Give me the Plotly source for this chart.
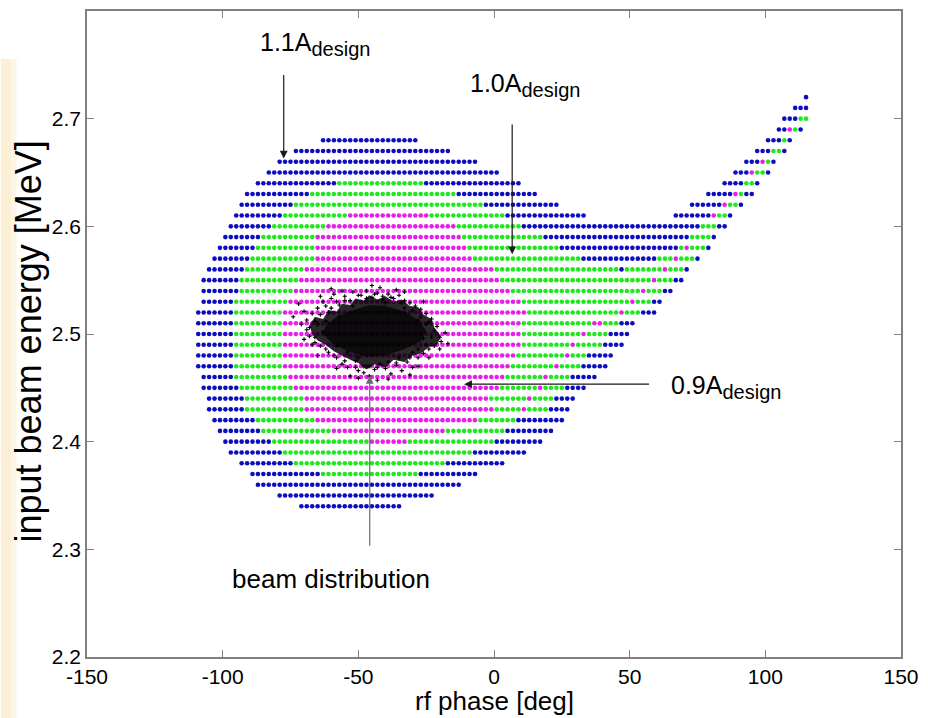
import plotly.graph_objects as go

# Phase-space acceptance scan: each row is one input beam energy [MeV],
# each segment is (colour key, first phase, last phase) on a 2-degree phase grid.
ROW_ENERGY = [2.72, 2.71, 2.70, 2.69, 2.68, 2.67, 2.66, 2.65, 2.64, 2.63, 2.62,
              2.61, 2.60, 2.59, 2.58, 2.57, 2.56, 2.55, 2.54, 2.53, 2.52, 2.51,
              2.50, 2.49, 2.48, 2.47, 2.46, 2.45, 2.44, 2.43, 2.42, 2.41, 2.40,
              2.39, 2.38, 2.37, 2.36, 2.35, 2.34]

ROW_SEGMENTS = [
    [("b", 115, 115)],
    [("b", 111, 115)],
    [("b", 107, 111), ("g", 113, 115)],
    [("b", 105, 107), ("m", 109, 109), ("g", 111, 111), ("b", 113, 113)],
    [("b", -63, -29), ("b", 101, 105), ("g", 107, 107), ("b", 109, 109)],
    [("b", -73, -17), ("b", 97, 101), ("g", 103, 105), ("b", 107, 107)],
    [("b", -79, -7), ("b", 93, 97), ("m", 99, 99), ("g", 101, 101), ("b", 103, 103)],
    [("b", -83, 1), ("b", 89, 93), ("m", 95, 95), ("g", 97, 99), ("b", 101, 101)],
    [("b", -87, -59), ("g", -57, -27), ("b", -25, 9), ("b", 85, 91), ("g", 93, 95), ("b", 97, 97)],
    [("b", -91, -69), ("g", -67, -15), ("b", -13, 15), ("b", 79, 87), ("m", 89, 89), ("g", 91, 91), ("b", 93, 95)],
    [("b", -93, -75), ("g", -73, -5), ("b", -3, 23), ("b", 73, 83), ("m", 85, 85), ("g", 87, 89), ("b", 91, 91)],
    [("b", -95, -79), ("g", -77, -55), ("m", -53, -25), ("g", -23, 3), ("b", 5, 33),
     ("b", 67, 79), ("m", 81, 81), ("g", 83, 85), ("b", 87, 87)],
    [("b", -97, -83), ("g", -81, -63), ("m", -61, -15), ("g", -13, 9), ("b", 11, 75), ("g", 77, 81), ("b", 83, 85)],
    [("b", -99, -87), ("g", -85, -67), ("m", -65, -13), ("g", -11, 17), ("b", 19, 71), ("g", 73, 79), ("b", 81, 81)],
    [("b", -101, -89), ("g", -87, -67), ("m", -65, -11), ("g", -9, 23), ("b", 25, 67), ("g", 69, 69),
     ("m", 71, 71), ("g", 73, 77), ("b", 79, 79)],
    [("b", -103, -91), ("g", -89, -67), ("m", -65, -9), ("g", -7, 31), ("b", 33, 59), ("g", 61, 65),
     ("m", 67, 67), ("g", 69, 73), ("b", 75, 75)],
    [("b", -105, -93), ("g", -91, -71), ("m", -69, -1), ("g", 1, 45), ("b", 47, 47), ("g", 49, 61),
     ("m", 63, 63), ("g", 65, 69), ("b", 71, 71)],
    [("b", -107, -95), ("g", -93, -73), ("m", -71, 1), ("g", 3, 57), ("m", 59, 59), ("g", 61, 65), ("b", 67, 69)],
    [("b", -107, -95), ("g", -93, -75), ("m", -73, 5), ("g", 7, 53), ("m", 55, 55), ("g", 57, 61), ("b", 63, 65)],
    [("b", -107, -97), ("g", -95, -77), ("m", -75, 9), ("g", 11, 49), ("m", 51, 51), ("g", 53, 57), ("b", 59, 61)],
    [("b", -109, -97), ("g", -95, -79), ("m", -77, 11), ("g", 13, 45), ("m", 47, 47), ("g", 49, 53), ("b", 55, 59)],
    [("b", -109, -97), ("g", -95, -79), ("m", -77, 9), ("g", 11, 35), ("m", 37, 39), ("g", 41, 45), ("b", 47, 51)],
    [("b", -109, -97), ("g", -95, -79), ("m", -77, 9), ("g", 11, 31), ("m", 33, 33), ("g", 35, 41), ("b", 43, 49)],
    [("b", -109, -97), ("g", -95, -79), ("m", -77, 9), ("g", 11, 27), ("m", 29, 29), ("g", 31, 39), ("b", 41, 47)],
    [("b", -109, -97), ("g", -95, -79), ("m", -77, 7), ("g", 9, 25), ("m", 27, 27), ("g", 29, 33), ("b", 35, 43)],
    [("b", -109, -97), ("g", -95, -79), ("m", -77, 5), ("g", 7, 21), ("m", 23, 23), ("g", 25, 31), ("b", 33, 41)],
    [("b", -107, -97), ("g", -95, -77), ("m", -75, 3), ("g", 5, 17), ("m", 19, 19), ("g", 21, 27), ("b", 29, 37)],
    [("b", -107, -95), ("g", -93, -75), ("m", -73, 1), ("g", 3, 15), ("m", 17, 17), ("g", 19, 25), ("b", 27, 33)],
    [("b", -105, -93), ("g", -91, -71), ("m", -69, -3), ("g", -1, 11), ("m", 13, 13), ("g", 15, 21), ("b", 23, 29)],
    [("b", -105, -93), ("g", -91, -71), ("m", -69, -1), ("g", 1, 9), ("m", 11, 11), ("g", 13, 19), ("b", 21, 27)],
    [("b", -103, -89), ("g", -87, -67), ("m", -65, -7), ("g", -5, 7), ("b", 9, 25)],
    [("b", -101, -87), ("g", -85, -61), ("m", -59, -19), ("g", -17, 3), ("b", 5, 21)],
    [("b", -99, -83), ("g", -81, -47), ("m", -45, -33), ("g", -31, -1), ("b", 1, 17)],
    [("b", -97, -79), ("g", -77, -9), ("b", -7, 11)],
    [("b", -93, -75), ("g", -73, -19), ("b", -17, 3)],
    [("b", -89, -65), ("g", -63, -29), ("b", -27, -7)],
    [("b", -87, -13)],
    [("b", -79, -23)],
    [("b", -71, -35)],
]

# Beam distribution: ragged outer envelope, dense inner core, individual particles
HALO_PHASE = [-68, -66, -63, -61, -58, -56, -53, -51, -48, -46, -43, -40, -37, -34,
              -31, -28, -26, -23, -22, -19.5, -21, -24, -27, -30, -33, -37, -40, -44,
              -47, -50, -53, -56, -59, -62, -65, -67, -68]
HALO_ENERGY = [2.508, 2.516, 2.514, 2.522, 2.521, 2.528, 2.527, 2.533, 2.531, 2.536,
               2.532, 2.535, 2.530, 2.532, 2.526, 2.525, 2.518, 2.514, 2.506, 2.498,
               2.490, 2.488, 2.482, 2.480, 2.474, 2.476, 2.469, 2.472, 2.467, 2.473,
               2.476, 2.480, 2.484, 2.490, 2.494, 2.500, 2.508]

CORE_PHASE = [-62, -58, -52, -46, -40, -33, -28, -25, -27, -33, -40, -47, -54, -60, -63, -62]
CORE_ENERGY = [2.508, 2.516, 2.522, 2.527, 2.526, 2.521, 2.513, 2.503, 2.493, 2.486,
               2.480, 2.479, 2.484, 2.492, 2.500, 2.508]

PARTICLE_PHASE = [
    -72, -69, -68, -67, -66, -65, -64, -63, -62, -61, -60, -59, -58, -57,
    -56, -55, -54, -53, -52, -51, -50, -49, -48, -47, -46, -45, -44, -43,
    -42, -41, -40, -39, -38, -37, -36, -35, -34, -33, -32, -31, -30, -29,
    -28, -27, -26, -25, -24, -23, -22, -21, -20, -19.5, -22, -24, -63, -65,
    -61, -58, -54, -50, -35, -30, -26, -28, -33, -40, -52, -57, -70, -46,
    -42, -36, -56, -64, -31, -53, -24, -20, -67,
    -66, -64, -62, -60, -58, -55, -50, -47, -44, -41, -38, -34, -30, -27,
    -25, -23, -25, -28, -31, -36, -39, -43, -48, -51, -55, -59, -62, -66,
    -68, -69, -71, -74, -60, -45, -33, -26, -18, -17, -28, -43, -50, -39,
    -58, -65, -70]
PARTICLE_ENERGY = [
    2.528, 2.513, 2.506, 2.519, 2.497, 2.524, 2.489, 2.530, 2.512, 2.483,
    2.533, 2.537, 2.478, 2.527, 2.472, 2.535, 2.469, 2.531, 2.539, 2.475,
    2.466, 2.536, 2.464, 2.540, 2.470, 2.534, 2.467, 2.538, 2.472, 2.535,
    2.468, 2.537, 2.463, 2.533, 2.471, 2.536, 2.466, 2.531, 2.474, 2.529,
    2.469, 2.526, 2.478, 2.523, 2.482, 2.519, 2.486, 2.514, 2.489, 2.507,
    2.497, 2.493, 2.503, 2.511, 2.502, 2.509, 2.520, 2.489, 2.483, 2.478,
    2.478, 2.483, 2.496, 2.513, 2.524, 2.529, 2.526, 2.516, 2.521, 2.461,
    2.543, 2.541, 2.540, 2.535, 2.462, 2.461, 2.478, 2.486, 2.490,
    2.512, 2.518, 2.526, 2.524, 2.530, 2.531, 2.536, 2.533, 2.537, 2.532,
    2.534, 2.529, 2.522, 2.516, 2.509, 2.497, 2.490, 2.486, 2.478, 2.473,
    2.474, 2.469, 2.470, 2.469, 2.475, 2.480, 2.486, 2.492, 2.498, 2.504,
    2.509, 2.516, 2.542, 2.545, 2.539, 2.530, 2.501, 2.491, 2.470, 2.457,
    2.459, 2.458, 2.468, 2.480, 2.495]

X_TICKS = [-150, -100, -50, 0, 50, 100, 150]
Y_TICKS = [2.2, 2.3, 2.4, 2.5, 2.6, 2.7]

COLORS = {"b": "#0c0cc0", "g": "#1fe81f", "m": "#e81fe8"}
NAMES = {"b": "1.1A", "g": "1.0A", "m": "0.9A"}
FONT = "Liberation Sans, Arial, sans-serif"

pts = {k: ([], []) for k in COLORS}
for energy, segs in zip(ROW_ENERGY, ROW_SEGMENTS):
    for key, first, last in segs:
        for phase in range(first, last + 1, 2):
            pts[key][0].append(phase)
            pts[key][1].append(energy)

fig = go.Figure()
for key in ["b", "g", "m"]:
    fig.add_trace(go.Scatter(
        x=pts[key][0], y=pts[key][1], mode="markers", name=NAMES[key],
        marker=dict(size=4.6, color=COLORS[key], line=dict(width=0)),
        hoverinfo="skip"))

fig.add_trace(go.Scatter(
    x=HALO_PHASE, y=HALO_ENERGY, mode="lines", fill="toself",
    fillcolor="rgba(0,0,0,0.84)", line=dict(width=0), hoverinfo="skip"))
fig.add_trace(go.Scatter(
    x=CORE_PHASE, y=CORE_ENERGY, mode="lines", fill="toself",
    fillcolor="rgba(0,0,0,0.7)", line=dict(width=0), hoverinfo="skip"))
fig.add_trace(go.Scatter(
    x=PARTICLE_PHASE, y=PARTICLE_ENERGY, mode="markers",
    marker=dict(size=3, color="black", symbol="cross-thin",
                line=dict(width=1.1, color="black")),
    hoverinfo="skip"))


def arrow(x_tip, y_tip, x_tail, y_tail, color="#1a1a1a"):
    return dict(x=x_tip, y=y_tip, ax=x_tail, ay=y_tail, xref="x", yref="y",
                axref="x", ayref="y", text="", showarrow=True, arrowhead=2,
                arrowsize=1.3, arrowwidth=1.2, arrowcolor=color)


def label(x, y, main):
    return dict(x=x, y=y, xref="x", yref="y", showarrow=False, xanchor="left",
                yanchor="middle",
                text=main + "A<sub><span style='font-size:20px'>design</span></sub>",
                font=dict(family=FONT, size=25, color="black"))


annotations = [
    arrow(-77.5, 2.663, -77.5, 2.742),
    arrow(6.7, 2.574, 6.7, 2.696),
    arrow(-11, 2.4534, 57.7, 2.4534),
    arrow(-45.8, 2.461, -45.8, 2.302, color="#6a6a6a"),
    label(-87, 2.769, "1.1"),
    label(-9.5, 2.731, "1.0"),
    label(64.6, 2.4506, "0.9"),
    dict(x=-60, y=2.272, xref="x", yref="y", showarrow=False,
         text="beam distribution", font=dict(family=FONT, size=26, color="black")),
    dict(x=0.5, y=-0.068, xref="paper", yref="paper", showarrow=False,
         yanchor="middle", text="rf phase [deg]",
         font=dict(family=FONT, size=26, color="black")),
    dict(x=-0.072, y=0.489, xref="paper", yref="paper", showarrow=False,
         xanchor="center", yanchor="middle", textangle=-90,
         text="input beam energy [MeV]",
         font=dict(family=FONT, size=36, color="black")),
]

axis_common = dict(showgrid=False, zeroline=False, showline=True, mirror="ticks",
                   linecolor="#808080", linewidth=1.5, ticks="inside", ticklen=7,
                   tickcolor="#808080", tickwidth=1.2,
                   tickfont=dict(family=FONT, size=21, color="black"))

fig.update_layout(
    width=928, height=718, margin=dict(l=87, r=18, t=9, b=61),
    paper_bgcolor="white", plot_bgcolor="white", showlegend=False,
    xaxis=dict(range=[-150, 150], tickvals=X_TICKS, ticktext=[str(v) for v in X_TICKS],
               **axis_common),
    yaxis=dict(range=[2.2, 2.8], tickvals=Y_TICKS, ticktext=[f"{v:.1f}" for v in Y_TICKS],
               **axis_common),
    annotations=annotations,
    shapes=[
        dict(type="rect", xref="paper", yref="paper", x0=-0.106, x1=-0.0935,
             y0=-0.095, y1=0.926, fillcolor="#fbefd5", line=dict(width=0), layer="below"),
        dict(type="rect", xref="paper", yref="paper", x0=-0.0935, x1=-0.0865,
             y0=-0.095, y1=0.926, fillcolor="#fdf6e8", line=dict(width=0), layer="below"),
    ],
)

fig.write_html("out.html")
